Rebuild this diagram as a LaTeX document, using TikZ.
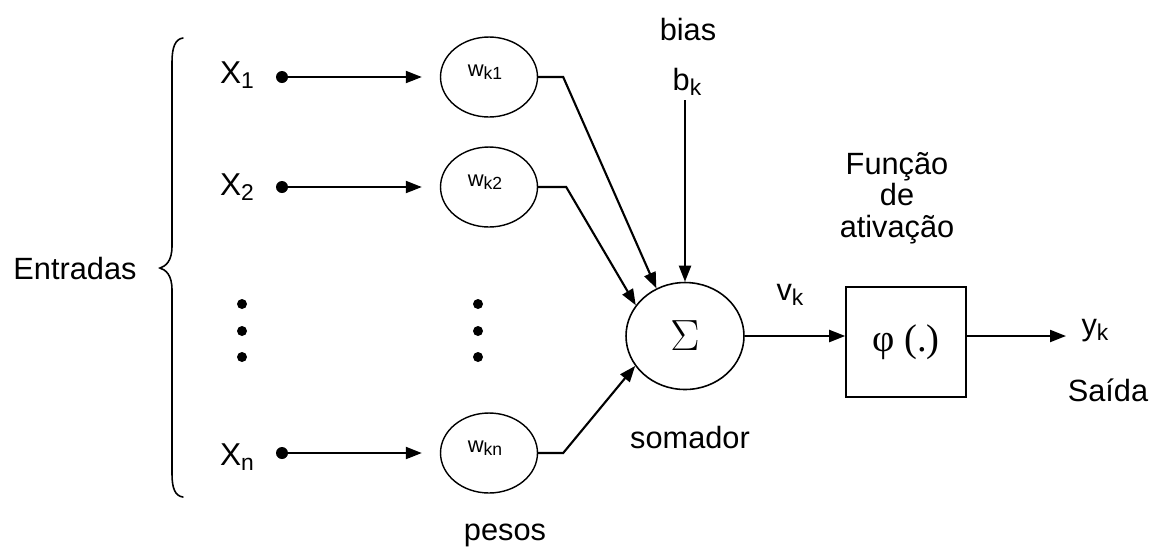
\documentclass[tikz,border=0pt]{standalone}
\usepackage{fontspec}
\setmainfont{Liberation Sans}
\newfontfamily\seriffont{Liberation Serif}
\usetikzlibrary{arrows.meta,shapes.geometric}
\newcommand{\sbs}[1]{\raisebox{-0.3ex}{\fontsize{13}{13}\selectfont #1}}
\newcommand{\wsbs}[1]{\raisebox{-0.3ex}{\fontsize{10}{10}\selectfont #1}}
\begin{document}
\begin{tikzpicture}[x=0.02cm,y=-0.02cm,
  lbl/.style={font=\fontsize{17.5}{20}\selectfont, inner sep=0},
  xlbl/.style={font=\fontsize{18}{20}\selectfont, inner sep=0},
  wtxt/.style={font=\fontsize{12.5}{12.5}\selectfont, inner sep=0},
  wnode/.style={draw, ellipse, minimum width=1.94cm, minimum height=1.6cm, inner sep=0, line width=0.8pt},
  sumnode/.style={draw, ellipse, minimum width=2.36cm, minimum height=2.14cm, inner sep=0, line width=0.9pt, font=\seriffont\fontsize{24}{24}\selectfont},
  boxnode/.style={draw, rectangle, minimum width=2.4cm, minimum height=2.2cm, inner sep=0, line width=0.9pt, font=\seriffont\fontsize{22}{22}\selectfont},
  dotn/.style={circle, fill, inner sep=0, minimum size=0.24cm},
  vdot/.style={circle, fill, inner sep=0, minimum size=0.2cm},
  arr/.style={line width=1.2pt, -{Triangle[length=0.32cm,width=0.24cm]}},
  brace/.style={line width=0.9pt, line cap=round}
]
\useasboundingbox (0,0) rectangle (1153,549);

% brace and Entradas
\node[lbl] (entr) at (75,268) {Entradas};
\draw[brace] (183,38) .. controls (175,39) and (172,48) .. (172,62) -- (172,246)
  .. controls (172,261) and (166,266) .. (160,268)
  .. controls (166,270) and (172,275) .. (172,290) -- (172,474)
  .. controls (172,488) and (175,496) .. (183,497);

% inputs
\node[xlbl] (x1) at (237,75) {X\sbs{1}};
\node[xlbl] (x2) at (237,187) {X\sbs{2}};
\node[xlbl] (xn) at (237,457) {X\sbs{n}};
\node[dotn] (d1) at (282,77) {};
\node[dotn] (d2) at (282,187) {};
\node[dotn] (dn) at (282,453) {};

\node[vdot] (l1) at (242,304) {};
\node[vdot] (l2) at (242,331) {};
\node[vdot] (l3) at (242,357) {};
\node[vdot] (r1) at (478,304) {};
\node[vdot] (r2) at (478,331) {};
\node[vdot] (r3) at (478,357) {};

% weights
\node[wnode] (w1) at (489,77) {};
\node[wnode] (w2) at (489,187) {};
\node[wnode] (wn) at (489,453) {};
\node[wtxt] (t1) at (485,72) {w\wsbs{k1}};
\node[wtxt] (t2) at (485,182) {w\wsbs{k2}};
\node[wtxt] (tn) at (485,448) {w\wsbs{kn}};

\draw[arr, shorten >=0.36cm] (d1.center) -- (w1.west);
\draw[arr, shorten >=0.36cm] (d2.center) -- (w2.west);
\draw[arr, shorten >=0.36cm] (dn.center) -- (wn.west);

% summing junction
\node[sumnode] (sum) at (685,336) {$\Sigma$};
\node[lbl] (som) at (690,437) {somador};
\node[lbl] (pesos) at (505,535) {pesos};

\draw[arr] (w1.east) -- ++(25,0) -- (sum.121);
\draw[arr] (w2.east) -- ++(28,0) -- (sum.148);
\draw[arr] (wn.east) -- ++(25,0) -- (sum.211);

% bias
\node[lbl] (bias) at (688,30) {bias};
\node[lbl] (bk) at (687,82) {b\sbs{k}};
\coordinate (btop) at (685,100);
\draw[arr] (btop) -- (sum.north);

% activation
\node[boxnode] (phi) at (906,342) {φ (.)};
\node[lbl, align=center] (fa) at (897,198) {Função\\[-2pt]de\\[-2pt]ativação};
\draw[arr] (sum.east) -- (sum.east -| phi.west);
\node[lbl] (vk) at (790,295) {v\sbs{k}};

% output
\coordinate (out) at (1066,336);
\draw[arr] (sum.east -| phi.east) -- (out);
\node[lbl] (yk) at (1095,331) {y\sbs{k}};
\node[lbl] (saida) at (1108,390) {Saída};
\end{tikzpicture}
\end{document}
